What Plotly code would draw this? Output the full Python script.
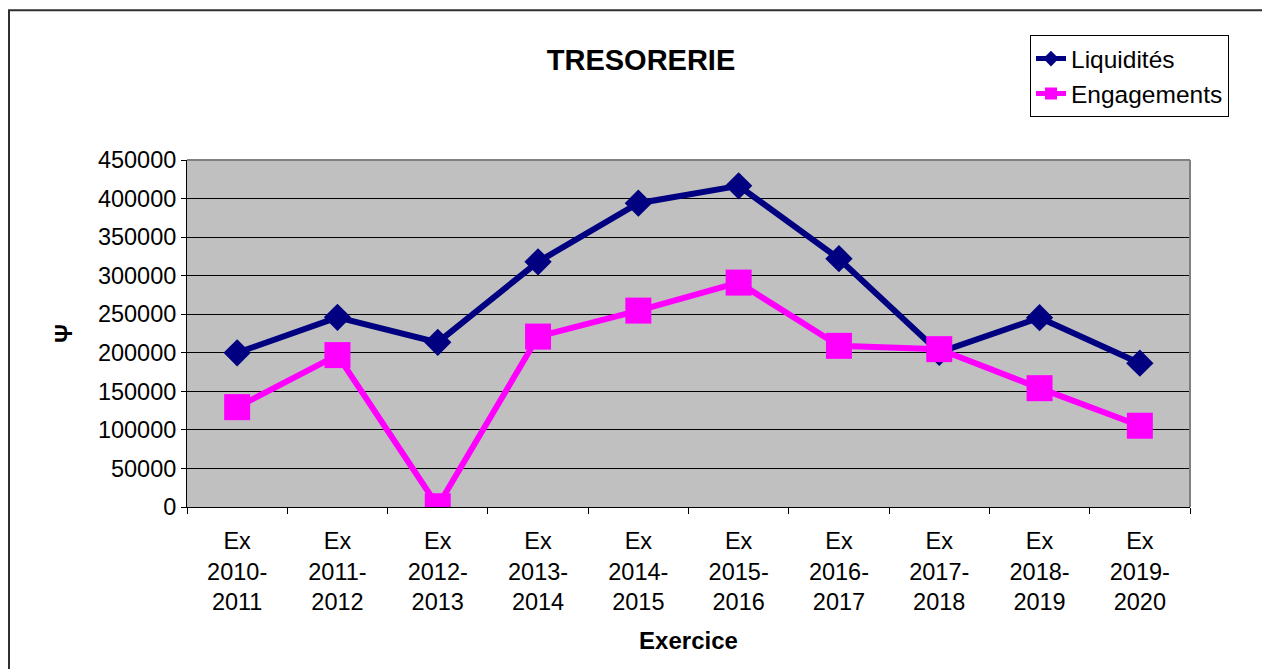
import plotly.graph_objects as go

categories = ["Ex<br>2010-<br>2011", "Ex<br>2011-<br>2012", "Ex<br>2012-<br>2013", "Ex<br>2013-<br>2014",
              "Ex<br>2014-<br>2015", "Ex<br>2015-<br>2016", "Ex<br>2016-<br>2017", "Ex<br>2017-<br>2018",
              "Ex<br>2018-<br>2019", "Ex<br>2019-<br>2020"]
liquidites = [200000, 246000, 213500, 318000, 394000, 416500, 322000, 200500, 245500, 186500]
engagements = [129500, 197000, 1000, 221000, 254700, 291000, 209000, 204700, 154100, 105400]
y_ticks = [0, 50000, 100000, 150000, 200000, 250000, 300000, 350000, 400000, 450000]

FONT = "Arial, Liberation Sans, sans-serif"
W, H = 1262, 669
L, R, T, B = 187, 1190, 160, 507.5

fig = go.Figure()
fig.add_trace(go.Scatter(x=categories, y=liquidites, name="Liquidités", mode="lines+markers",
                         line=dict(color="#000080", width=6),
                         marker=dict(symbol="diamond", size=21, color="#000080")))
fig.add_trace(go.Scatter(x=categories, y=engagements, name="Engagements", mode="lines+markers",
                         line=dict(color="#FF00FF", width=6),
                         marker=dict(symbol="square", size=26, color="#FF00FF")))

pw, ph = R - L, B - T
def px(x): return (x - L) / pw
def py(y): return (B - y) / ph

fig.update_layout(
    width=W, height=H,
    margin=dict(l=L, r=W - R, t=T, b=H - B, autoexpand=False),
    paper_bgcolor="white", plot_bgcolor="#C0C0C0",
    font=dict(family=FONT, size=23.5, color="black"),
    title=dict(text="<b>TRESORERIE</b>", x=641 / W, xanchor="center", y=1 - 60 / H, yanchor="middle",
               font=dict(size=29, family=FONT, color="black")),
    showlegend=True,
    legend=dict(x=px(1030), y=py(35), xanchor="left", yanchor="top",
                bgcolor="white", bordercolor="black", borderwidth=1,
                font=dict(size=24.5, family=FONT), tracegroupgap=0, itemsizing="constant"),
    xaxis=dict(type="category", range=[-0.5, 9.5], showgrid=False, showline=True, linecolor="black",
               linewidth=1, ticks="outside", tickson="boundaries", ticklen=6, tickcolor="black",
               ticklabelstandoff=13,
               tickfont=dict(size=23.5), title=dict(text="<b>Exercice</b>", font=dict(size=24), standoff=17),
               zeroline=False, fixedrange=True),
    yaxis=dict(range=[0, 450000], tickvals=y_ticks, ticktext=[str(v) for v in y_ticks],
               showgrid=True, gridcolor="black", gridwidth=1, showline=True, linecolor="black", linewidth=1,
               ticks="outside", ticklen=5, tickcolor="black", tickfont=dict(size=23.5),
               title=dict(text="<b>Ψ</b>", font=dict(size=23), standoff=18), zeroline=False, fixedrange=True),
    shapes=[
        dict(type="line", xref="paper", yref="paper", x0=0, x1=1, y0=1, y1=1,
             line=dict(color="#808080", width=2), layer="above"),
        dict(type="line", xref="paper", yref="paper", x0=1, x1=1, y0=0, y1=1,
             line=dict(color="#808080", width=2), layer="above"),
        dict(type="rect", xref="paper", yref="paper", x0=px(9), x1=px(1300), y0=py(10), y1=py(800),
             line=dict(color="#303030", width=2), fillcolor="rgba(0,0,0,0)", layer="above"),
    ],
)

fig.write_html("out.html", config={"displayModeBar": False},
               post_script="document.body.style.margin='0';document.body.style.overflow='hidden';")
